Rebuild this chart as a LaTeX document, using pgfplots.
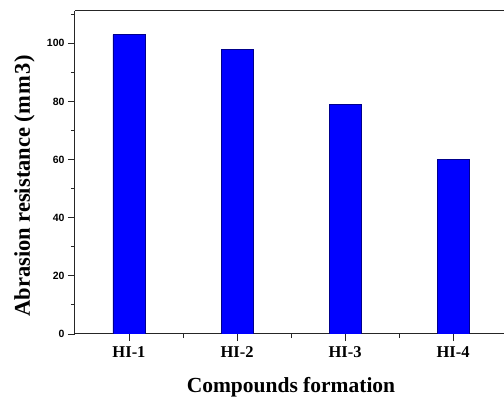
\documentclass[border=0pt]{standalone}
\usepackage{fontspec}
\setmainfont{Liberation Serif}
\newfontfamily\arialf{Liberation Sans}
\usepackage{pgfplots}
\pgfplotsset{compat=1.18}
\begin{document}
\begin{tikzpicture}
\begin{axis}[
  at={(0,0)}, anchor=south west,
  scale only axis, width=437.4pt, height=323pt,
  xmin=0.5, xmax=4.55, ymin=0, ymax=111.1,
  axis x line*=box, axis y line*=left,
  ybar, bar width=32pt,
  xtick={1,2,3,4}, xticklabels={HI-1,HI-2,HI-3,HI-4},
  minor xtick={1.5,2.5,3.5},
  ytick={0,20,...,100}, minor ytick={10,30,...,110},
  tick align=outside, xtick pos=bottom, ytick pos=left,
  major tick length=7pt, minor tick length=4pt,
  axis line style={line width=1pt, black!85, -},
  every tick/.style={black!85, line width=0.9pt},
  /pgf/number format/assume math mode=true,
  yticklabel style={font=\arialf\bfseries\fontsize{10.5}{12}\selectfont},
  xticklabel style={font=\bfseries\fontsize{16.5}{19}\selectfont, yshift=-2pt},
  xlabel={Compounds formation},
  xlabel style={font=\bfseries\fontsize{21.5}{24}\selectfont, at={(axis description cs:0.4938,-0.1796)}, anchor=base},
  ylabel={Abrasion resistance (m\kern1.5pt m\kern1.5pt 3)},
  ylabel style={font=\bfseries\fontsize{22.5}{25}\selectfont, at={(axis description cs:-0.1029,0.458)}, anchor=base},
]
\addplot[fill=blue, draw=blue!55!black, line width=0.4pt] coordinates {(1,103) (2,98) (3,79) (4,60)};
\end{axis}
\pgfresetboundingbox
\path[use as bounding box] (-75pt,-65pt) rectangle (429pt,334pt);
\end{tikzpicture}
\end{document}
